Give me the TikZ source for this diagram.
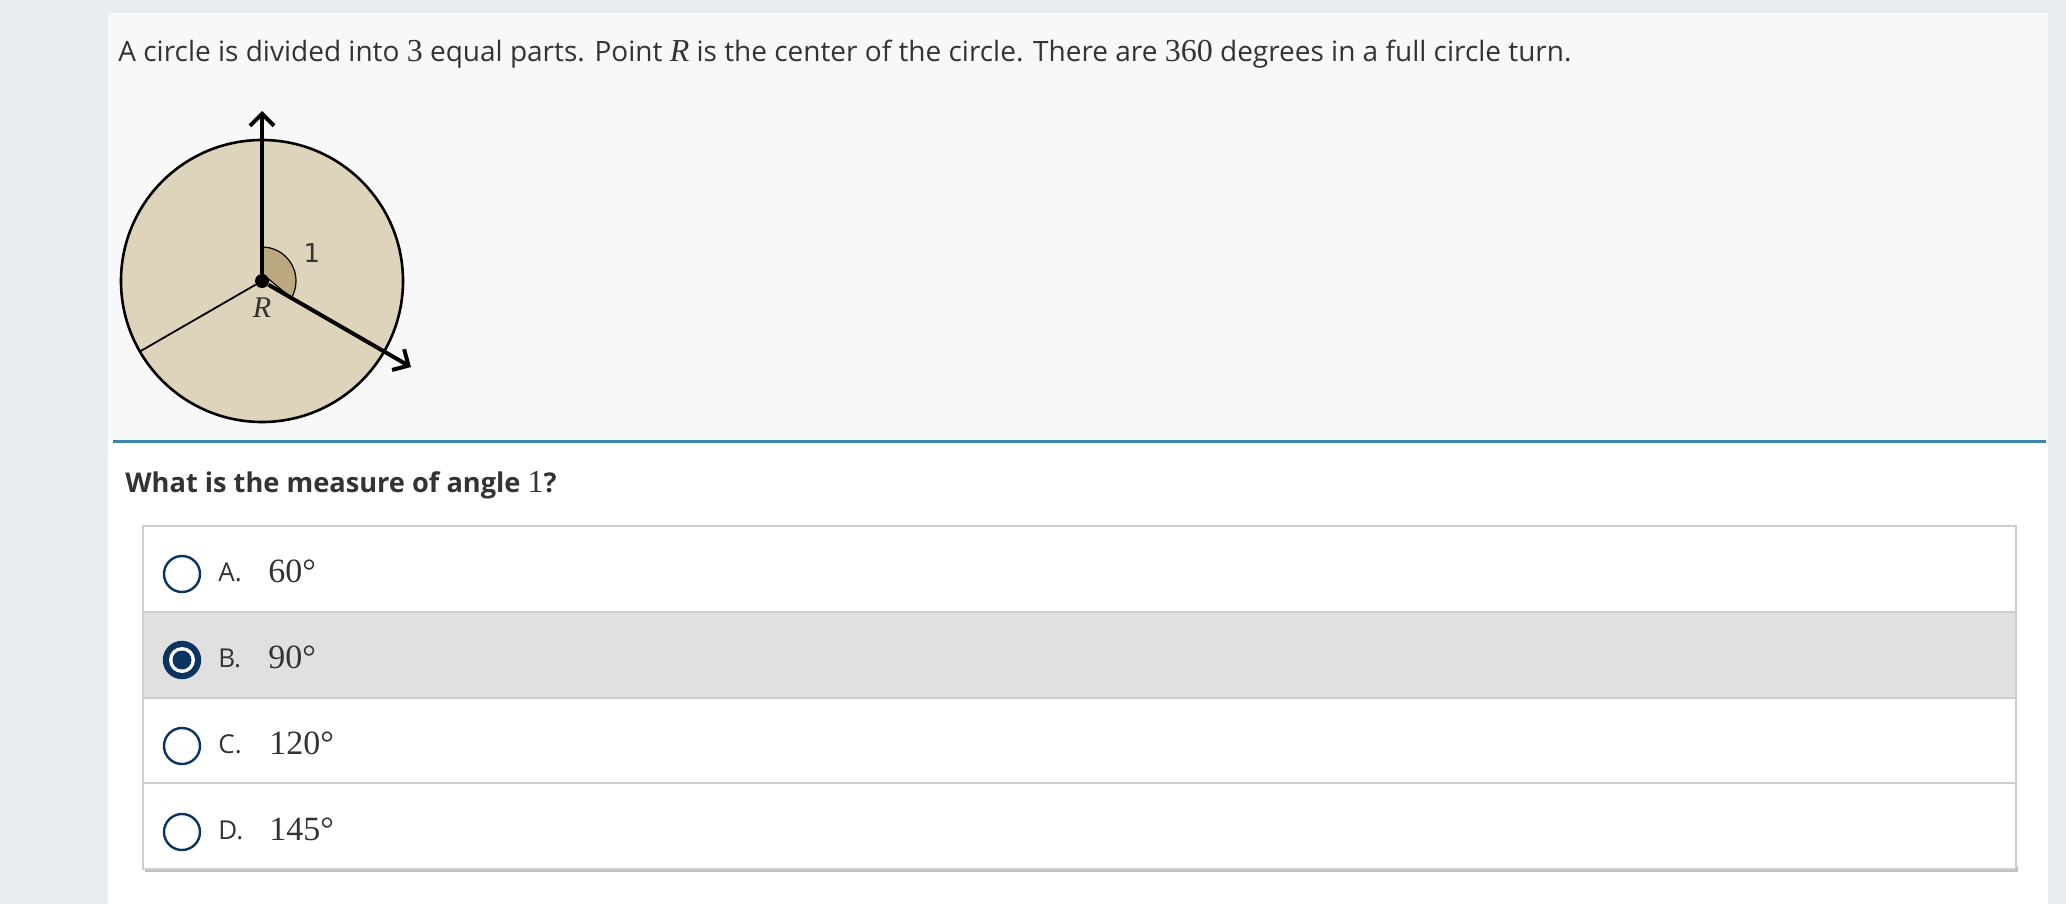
\documentclass[tikz,border=0pt]{standalone}
\usepackage{fontspec}
\setmainfont{Open Sans}
\newfontfamily\numfont{Liberation Serif}
\newfontfamily\labfont{DejaVu Sans}
\usetikzlibrary{arrows.meta,calc}
\definecolor{pagebg}{RGB}{233,236,240}
\definecolor{panelbg}{RGB}{248,248,248}
\definecolor{disctan}{RGB}{222,212,187}
\definecolor{wedgetan}{RGB}{188,168,128}
\definecolor{rulebl}{RGB}{58,135,173}
\definecolor{navy}{RGB}{12,52,96}
\definecolor{rowsel}{RGB}{224,224,224}
\definecolor{rowline}{RGB}{206,206,206}
\definecolor{txt}{RGB}{51,51,51}

\begin{document}
\begin{tikzpicture}[x=0.5pt,y=0.5pt,>={Straight Barb[length=6pt,width=12pt]},
    ray/.style={->,line width=2pt},
    disc/.style={draw,fill=disctan,line width=1.3pt},
    dot/.style={circle,fill,inner sep=0pt,minimum size=7pt},
    txtline/.style={anchor=base west,inner sep=0pt,text=txt},
    radio/.style={circle,draw=navy,line width=1.2pt,minimum size=18pt,inner sep=0pt},
    choice/.style={anchor=base west,inner sep=0pt,text=txt,font=\fontsize{13}{15}\selectfont},
    value/.style={anchor=base west,inner sep=0pt,text=txt,font=\numfont\fontsize{17}{20}\selectfont}]
  \useasboundingbox[fill=pagebg] (0,0) rectangle (2066,-904);
  \fill[panelbg] (108,-13) rectangle (2048,-441);
  \fill[white] (108,-441) rectangle (2048,-904);
  \draw[rulebl,line width=1.5pt] (113,-441) -- (2046,-441);

  \node[txtline,font=\fontsize{14}{17}\selectfont] (intro) at (118,-62)
    {A circle is divided into {\numfont\fontsize{16}{17}\selectfont 3} equal parts.
     Point {\numfont\itshape\fontsize{16}{17}\selectfont R} is the center of the circle.
     There are {\numfont\fontsize{16}{17}\selectfont 360} degrees in a full circle turn.};

  % circle cut in three
  \node[dot] (R) at (262,-281) {};
  \draw[disc] (R) circle[radius=141];
  \coordinate (up) at ($(R)+(90:170)$);
  \coordinate (right) at ($(R)+(-30:172)$);
  \coordinate (left) at ($(R)+(210:141)$);
  \filldraw[fill=wedgetan,line width=0.6pt] (R) -- ++(90:34) arc[start angle=90,end angle=-30,radius=34] -- cycle;
  \draw[line width=0.9pt] (R) -- (left);
  \draw[ray] (R) -- (up);
  \draw[ray] (R) -- (right);
  \node[dot] at (R) {};
  \node[font=\labfont\fontsize{13}{15}\selectfont,text=txt] (one) at (312,-253) {1};
  \node[font=\numfont\itshape\fontsize{15}{16}\selectfont,text=txt] (rlab) at (262,-308) {R};

  \node[txtline,font=\bfseries\fontsize{13.6}{16}\selectfont] (ask) at (125,-492)
    {What is the measure of angle {\numfont\mdseries\fontsize{16}{17}\selectfont 1}?};

  % answer rows
  \fill[black!25] (145,-866) rectangle (2018,-872);
  \fill[white] (143,-526) rectangle (2016,-869);
  \fill[rowsel] (143,-612) rectangle (2016,-698);
  \draw[rowline,line width=1pt] (143,-526) rectangle (2016,-869);
  \draw[rowline,line width=1pt] (143,-612) -- (2016,-612);
  \draw[rowline,line width=1pt] (143,-698) -- (2016,-698);
  \draw[rowline,line width=1pt] (143,-783) -- (2016,-783);

  \node[radio] (ra) at (182,-574) {};
  \node[radio,fill=navy] (rb) at (182,-660) {};
  \node[circle,fill=white,minimum size=13pt,inner sep=0pt] at (rb) {};
  \node[circle,fill=navy,minimum size=9.5pt,inner sep=0pt] at (rb) {};
  \node[radio] (rc) at (182,-746) {};
  \node[radio] (rd) at (182,-832) {};

  \node[choice] (la) at (218,-581) {A.};
  \node[value] (va) at (268,-582) {60°};
  \node[choice] (lb) at (218,-667) {B.};
  \node[value] (vb) at (268,-668) {90°};
  \node[choice] (lc) at (218,-753) {C.};
  \node[value] (vc) at (269,-754) {120°};
  \node[choice] (ld) at (218,-839) {D.};
  \node[value] (vd) at (269,-840) {145°};
\end{tikzpicture}
\end{document}
